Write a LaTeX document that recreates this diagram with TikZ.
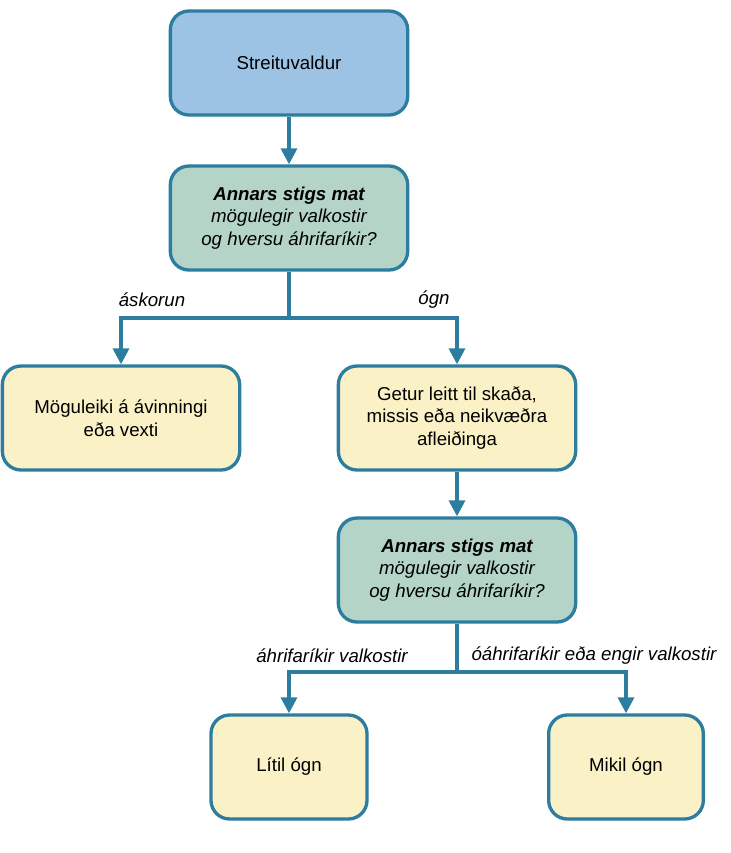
\documentclass[tikz,border=0pt]{standalone}
\usepackage{fontspec}
\setmainfont{Liberation Sans}
\usetikzlibrary{arrows.meta}
\definecolor{edgeblue}{HTML}{2C7DA0}
\definecolor{topfill}{HTML}{9DC3E4}
\definecolor{matfill}{HTML}{B4D4C8}
\definecolor{resfill}{HTML}{FBF1C6}
\tikzset{
    box/.style={draw=edgeblue, line width=2.5pt, rounded corners=14pt,
        minimum width=178pt, minimum height=78pt, align=center,
        font=\fontsize{14}{17}\selectfont},
    lab/.style={font=\itshape\fontsize{14}{17}\selectfont},
    link/.style={draw=edgeblue, line width=2.5pt, -{Triangle[length=12pt,width=12pt]}},
}
\begin{document}
\begin{tikzpicture}[x=0.75pt,y=-0.75pt]
        \useasboundingbox (0,0) rectangle (731,853);
        \node[box, fill=topfill](S)  at (289,63)  {Streituvaldur};
        \node[box, fill=matfill, font=\itshape\fontsize{14}{17}\selectfont](M1) at (289,218) {\textbf{Annars stigs mat}\\mögulegir valkostir\\og hversu áhrifaríkir?};
        \node[box, fill=resfill](V)  at (121,418) {Möguleiki á ávinningi\\eða vexti};
        \node[box, fill=resfill](G)  at (457,418) {Getur leitt til skaða,\\missis eða neikvæðra\\afleiðinga};
        \node[box, fill=matfill, font=\itshape\fontsize{14}{17}\selectfont](M2) at (457,570) {\textbf{Annars stigs mat}\\mögulegir valkostir\\og hversu áhrifaríkir?};
        \node[box, fill=resfill, minimum width=117pt](L) at (289,767) {Lítil ógn};
        \node[box, fill=resfill, minimum width=116pt](K) at (626,767) {Mikil ógn};
        \coordinate (b1) at (289,318);
        \coordinate (b2) at (457,672);
        \node[lab](l1) at (152,300) {áskorun};
        \node[lab](l2) at (434,300) {ógn};
        \node[lab](l3) at (332,656) {áhrifaríkir valkostir};
        \node[lab](l4) at (594,656) {óáhrifaríkir eða engir valkostir};
        \path[link] (S) -- (M1);
        \path[link] (G) -- (M2);
        \draw[edgeblue, line width=2.5pt] (M1) -- (b1);
        \draw[edgeblue, line width=2.5pt] (M2) -- (b2);
        \path[link] (b1) -| (V.north);
        \path[link] (b1) -| (G.north);
        \path[link] (b2) -| (L.north);
        \path[link] (b2) -| (K.north);
\end{tikzpicture}
\end{document}
